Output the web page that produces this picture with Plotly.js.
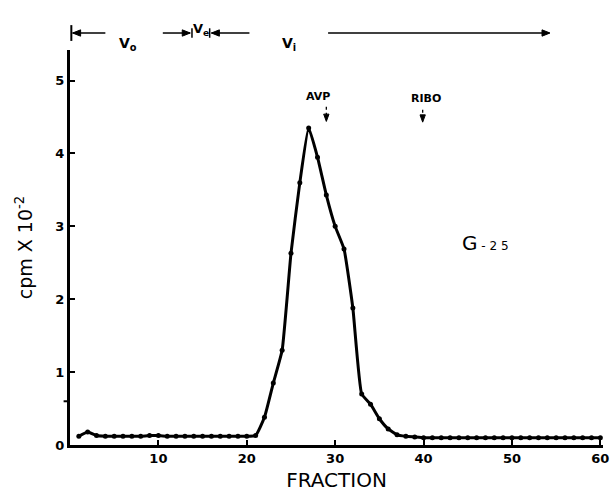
<!DOCTYPE html>
<html>
<head>
<meta charset="utf-8">
<script src="https://cdn.plot.ly/plotly-3.0.1.min.js"></script>
<style>body{margin:0;padding:0;background:#fff;} #chart{width:612px;height:500px;}</style>
</head>
<body>
<div id="chart"></div>
<script>
// Fractions 1..60
const fractions = [1,2,3,4,5,6,7,8,9,10,11,12,13,14,15,16,17,18,19,20,
  21,22,23,24,25,26,27,28,29,30,31,32,33,34,35,36,37,38,39,40,
  41,42,43,44,45,46,47,48,49,50,51,52,53,54,55,56,57,58,59,60];
// cpm x 10^-2
const cpm = [0.12,0.18,0.13,0.12,0.12,0.12,0.12,0.12,0.13,0.13,
  0.12,0.12,0.12,0.12,0.12,0.12,0.12,0.12,0.12,0.12,
  0.13,0.38,0.85,1.30,2.63,3.60,4.35,3.95,3.43,3.00,
  2.69,1.88,0.70,0.56,0.36,0.22,0.14,0.12,0.11,0.10,
  0.10,0.10,0.10,0.10,0.10,0.10,0.10,0.10,0.10,0.10,
  0.10,0.10,0.10,0.10,0.10,0.10,0.10,0.10,0.10,0.10];
const xTicks = [10,20,30,40,50,60];
const yTicks = [0,1,2,3,4,5];

const bold = {family:'DejaVu Sans', size:13, color:'#000', weight:'bold'};
const trace = {
  x: fractions, y: cpm, mode: 'lines+markers', type: 'scatter',
  line: {color:'#000', width:3, shape:'spline', smoothing:0.4},
  marker: {color:'#000', size:5},
  showlegend:false, hoverinfo:'skip'
};

const yTop = 1.043;
const annotations = [
  {x:6.6, y:yTop, xref:'x', yref:'paper', showarrow:false, text:'V<sub>o</sub>', font:{family:'DejaVu Sans', size:14, color:'#000', weight:'bold'}},
  {x:14.8, y:1.078, xref:'x', yref:'paper', showarrow:false, text:'V<sub>e</sub>', font:{family:'DejaVu Sans', size:13, color:'#000', weight:'bold'}},
  {x:24.8, y:yTop, xref:'x', yref:'paper', showarrow:false, text:'V<sub>i</sub>', font:{family:'DejaVu Sans', size:14, color:'#000', weight:'bold'}},
  {x:28.0, y:4.78, xref:'x', yref:'y', showarrow:false, text:'AVP', font:{family:'DejaVu Sans', size:11, color:'#000', weight:'bold'}},
  {x:40.3, y:4.76, xref:'x', yref:'y', showarrow:false, text:'RIBO', font:{family:'DejaVu Sans', size:11, color:'#000', weight:'bold'}},
  {x:47.0, y:2.77, xref:'x', yref:'y', showarrow:false, text:'G<span style="font-size:12px"> - 2 5</span>', font:{family:'DejaVu Sans', size:20, color:'#000'}}
];

function hline(x0, x1, w){ return {type:'line', xref:'x', yref:'paper', x0:x0, x1:x1, y0:yTop, y1:yTop, line:{color:'#000', width:w}}; }
function vbar(x, h, w){ return {type:'line', xref:'x', yref:'paper', x0:x, x1:x, y0:yTop-h, y1:yTop+h, line:{color:'#000', width:w}}; }
function headL(x){ return {type:'path', xref:'x', yref:'paper', path:`M ${x},${yTop} L ${x+0.9},${yTop+0.008} L ${x+0.9},${yTop-0.008} Z`, fillcolor:'#000', line:{color:'#000', width:1}}; }
function headR(x){ return {type:'path', xref:'x', yref:'paper', path:`M ${x},${yTop} L ${x-0.9},${yTop+0.008} L ${x-0.9},${yTop-0.008} Z`, fillcolor:'#000', line:{color:'#000', width:1}}; }
function downArrow(x, yHi, yLo){ return [
  {type:'line', xref:'x', yref:'y', x0:x, x1:x, y0:yHi, y1:yLo+0.06, line:{color:'#000', width:1.3, dash:'dot'}},
  {type:'path', xref:'x', yref:'y', path:`M ${x},${yLo} L ${x-0.3},${yLo+0.1} L ${x+0.3},${yLo+0.1} Z`, fillcolor:'#000', line:{color:'#000', width:1}}
]; }

const shapes = [
  vbar(0.15, 0.02, 2), hline(0.3, 4.0, 1.5), headL(0.3),
  hline(10.5, 13.6, 1.5), headR(13.6), vbar(13.8, 0.012, 1.5),
  vbar(15.8, 0.012, 1.5), headL(16.0), hline(16.0, 20.3, 1.5),
  hline(29.2, 54.2, 1.5), headR(54.3),
  ...downArrow(29.0, 4.64, 4.44),
  ...downArrow(39.9, 4.6, 4.43),
  {type:'line', xref:'paper', yref:'y', x0:-0.012, x1:0, y0:0.6, y1:0.6, line:{color:'#000', width:2}}
];

const layout = {
  width:612, height:500,
  margin:{l:70, r:9, t:50, b:55},
  paper_bgcolor:'#fff', plot_bgcolor:'#fff',
  xaxis:{range:[0,60.3], tickvals:xTicks, ticktext:xTicks.map(String), ticks:'inside', ticklen:5, tickwidth:2, tickcolor:'#000',
    showline:true, linecolor:'#000', linewidth:2.5, showgrid:false, zeroline:false,
    tickfont:bold,
    title:{text:'FRACTION', font:{family:'DejaVu Sans', size:20, color:'#000'}, standoff:8}},
  yaxis:{range:[0,5.42], tickvals:yTicks, ticktext:yTicks.map(String), ticks:'inside', ticklen:5, tickwidth:2, tickcolor:'#000',
    showline:true, linecolor:'#000', linewidth:3, showgrid:false, zeroline:false,
    tickfont:bold,
    title:{text:'cpm X 10<sup>-2</sup>', font:{family:'DejaVu Sans', size:19, color:'#000'}, standoff:18}},
  annotations:annotations,
  shapes:shapes
};

Plotly.newPlot('chart', [trace], layout, {displayModeBar:false, staticPlot:true});
</script>
</body>
</html>
